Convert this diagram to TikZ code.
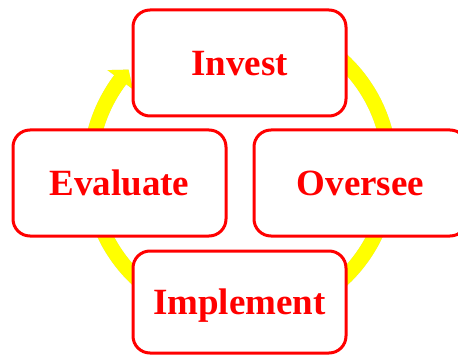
\documentclass[tikz,border=0pt]{standalone}
\usepackage{fontspec}
\setmainfont{Liberation Serif}
\definecolor{boxred}{RGB}{255,0,0}
\definecolor{ringyellow}{RGB}{255,255,0}
\begin{document}
\begin{tikzpicture}[x=1pt,y=1pt,
  stagebox/.style={draw=boxred, line width=3pt, fill=white, rounded corners=17pt,
    minimum width=213pt, minimum height=106pt, inner sep=0pt,
    text=boxred, font=\fontsize{37}{40}\selectfont\bfseries,
    text height=25pt, text depth=0pt},
  ring/.style={ringyellow, line width=15pt}]
\useasboundingbox (0,0) rectangle (458,354);
\clip (0,0) rectangle (458,354);
\coordinate (C) at (240,184);
% shadow of the ring
\begin{scope}[shift={(1.2,-1.5)}]
  \draw[black!18, line width=15pt] ([shift={(100:150)}]C) arc[start angle=100, end angle=-217, radius=150];
  \fill[black!18] ([shift={(143:134)}]C) -- ([shift={(138:150)}]C) -- ([shift={(143:166)}]C) -- cycle;
\end{scope}
% ring with arrow
\draw[ring] ([shift={(100:150)}]C) arc[start angle=100, end angle=-217.3, radius=150];
\fill[ringyellow] ([shift={(143:134)}]C) -- ([shift={(138:150)}]C) -- ([shift={(143:166)}]C) -- cycle;
% boxes
\node[stagebox] (invest) at (239.5,291) {Invest};
\node[stagebox] (evaluate) at (119.5,171) {Evaluate};
\node[stagebox] (oversee) at (360.5,171) {Oversee};
\node[stagebox, minimum height=102pt] (implement) at (239.5,52) {Implement};
\end{tikzpicture}
\end{document}
